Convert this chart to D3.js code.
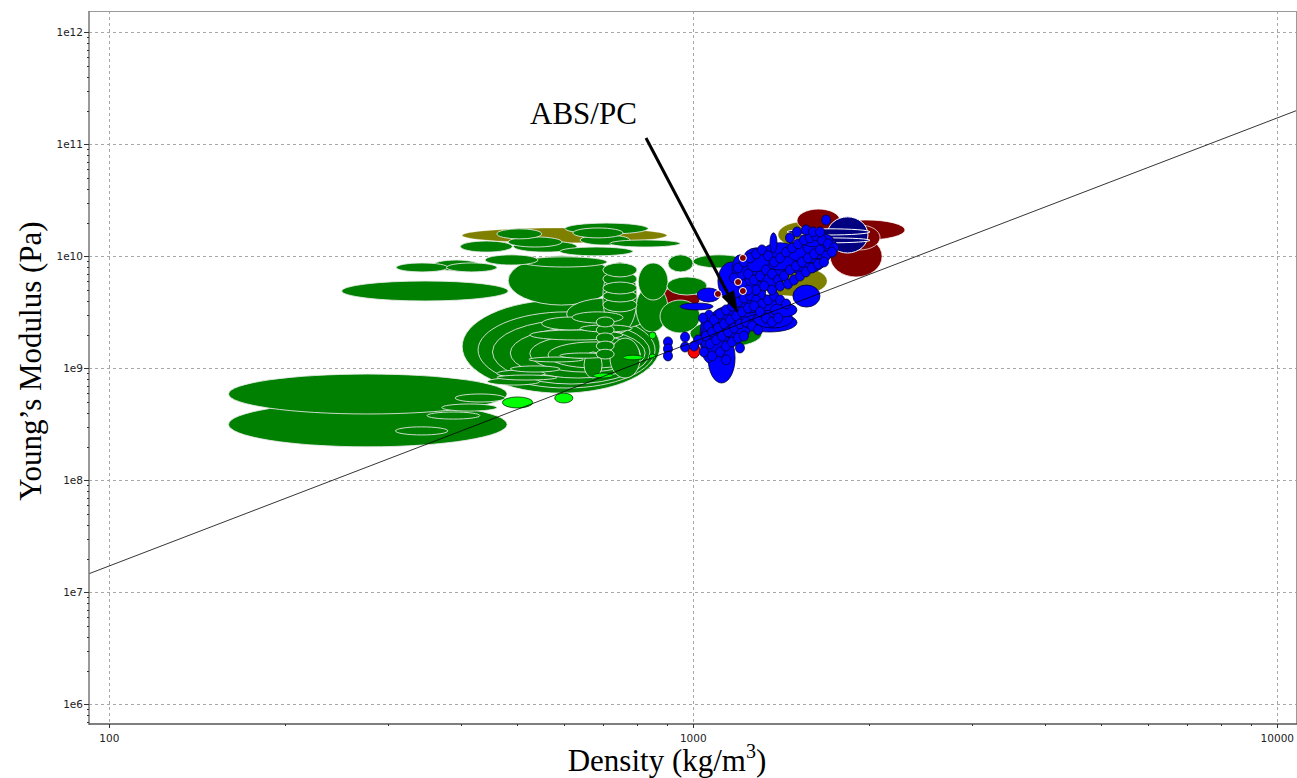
<!DOCTYPE html>
<html><head><meta charset="utf-8">
<script src="https://cdn.jsdelivr.net/npm/d3@7"></script>
<style>html,body{margin:0;padding:0;background:#fff;overflow:hidden}</style>
</head><body><svg id="c" width="1297" height="778"></svg>
<script>
// ---------------- DATA ----------------
// axis ticks
const densityTicks = [100, 1000, 10000];
const densityTickLabels = ["100", "1000", "10000"];
const modulusTicks = [1e6, 1e7, 1e8, 1e9, 1e10, 1e11, 1e12];
const modulusTickLabels = ["1e6", "1e7", "1e8", "1e9", "1e10", "1e11", "1e12"];

// material property ranges: [density min, density max (kg/m3), modulus min, modulus max (GPa)]
const woodsNatural = [ // dark green
  [160,480,0.391,0.889],[160,480,0.199,0.50],[309,380,0.254,0.30],[350,431,0.352,0.407],
  [371,461,0.415,0.48],[391,476,0.50,0.59],[444,546,0.709,0.819],[461,557,0.836,0.965],
  [250,482,3.99,6.02],[310,380,7.25,8.72],[358,431,7.40,9.27],[378,461,7.25,8.72],
  [440,542,8.36,10.3],[509,712,8.02,9.88],[482,734,3.67,10.1],
  [461,550,14.3,17.6],[482,596,12.1,14.9],[399,490,10.9,13.7],[492,632,10.9,13.7],
  [603,837,15.8,19.8],[622,758,14.6,17.9],[640,779,12.6,15.5],[591,788,10.1,12.1],[720,949,12.1,14.0],
  [402,877,0.60,4.07],[428,860,0.667,3.19],[453,843,0.724,2.70],[486,827,0.819,2.29],
  [525,811,0.926,1.98],[564,811,1.006,1.72],
  [461,584,0.786,0.871],[486,591,0.926,1.05],[523,648,1.14,1.26],[591,712,1.23,1.37],
  [550,692,2.20,2.87],[620,758,2.54,3.19],[640,785,2.11,2.44],[525,758,1.79,2.20],[607,843,2.20,4.24],
  [682,732,2.34,2.87],[682,732,1.98,2.44],[682,732,1.68,2.07],[682,732,1.43,1.75],[682,732,1.21,1.48],
  [650,698,0.819,1.40],[720,811,0.819,1.86],
  [700,801,2.07,8.90],[700,801,6.54,8.72],[700,801,5.43,7.25],[700,801,4.61,5.89],[700,801,3.91,5.0],[700,801,3.19,4.24],
  [805,905,4.07,8.72],[798,905,2.11,5.54],[905,999,7.25,10.3],[901,1055,4.51,6.54],
  [999,1226,7.87,10.3],[987,1311,1.55,2.70],[877,1027,2.07,4.07]
];
const oliveGroup = [[402,901,13.2,17.9],[1397,1695,12.1,20.2],[1286,1695,4.42,8.19]];
const darkRedGroup = [[801,1027,3.32,5.10],[1505,1783,16.5,26.4],[1695,2304,14.0,21.1],[1715,2105,6.54,15.2],[1783,2088,11.4,19.0]];
const navyGroup = [[1695,1991,10.7,22.5],[1447,2007,15.5,17.6],[1481,2007,13.2,14.6]];
const foamGroup = [[471,531,0.442,0.555],[579,622,0.49,0.60],[674,729,0.819,0.907],[758,821,1.19,1.31],[840,863,1.21,1.34],[840,863,1.83,2.11]];
const redGroup = [[979,1027,1.23,1.68]];
const polymerRanges = [
  [1060,1179,0.739,2.07],[1027,1102,1.12,3.32],[1481,1648,3.52,5.54],[1212,1505,2.11,3.12],
  [949,1081,3.32,3.83],[1015,1111,3.91,5.21],[1165,1241,5.89,10.3],[1216,1353,7.25,11.9],
  [1353,1391,10.7,16.2],[1301,1523,7.55,13.2],[1447,1736,8.72,13.2],[1523,1736,12.1,16.2],
  [1202,1301,3.12,4.33],[1266,1481,2.29,3.32],[1353,1505,2.87,3.83],[1102,1226,4.07,8.90],
  [1221,1450,5.2,11.0],[1400,1700,7.0,13.5],[1060,1260,1.7,3.6],[1180,1420,2.4,4.6],
  [1150,1330,3.5,6.5],[1540,1760,9.5,16.0],[1030,1150,1.3,2.6]
];
// single-grade polymers: [density, modulus (GPa)]
const polymerPoints = [
  [1039,2.81],[1060,2.39],[1085,2.70],[1111,3.06],[1138,3.32],[1165,3.60],[1193,3.91],[1221,4.24],
  [1251,4.42],[1281,4.07],[1311,3.75],[1343,4.07],[1375,4.42],[1408,4.07],[1442,3.75],
  [1051,1.94],[1077,2.11],[1102,2.29],[1129,2.49],[1156,2.70],[1184,2.93],[1212,3.19],[1241,3.45],
  [1271,3.60],[1301,3.19],[1332,2.81],[1364,2.59],[1397,2.81],
  [1068,1.65],[1094,1.79],[1120,1.94],[1147,2.11],[1174,2.29],[1202,2.49],[1231,2.59],[1261,2.39],[1291,2.20],
  [1043,1.40],[1077,1.29],[1111,1.40],[1138,1.58],[1165,1.72],[1193,1.86],[1221,1.94],[1138,1.19],[1202,1.52],
  [1019,1.79],[1003,1.58],
  [1193,7.87],[1221,8.90],[1251,9.66],[1281,10.5],[1311,11.4],[1343,10.1],[1375,8.90],[1408,9.66],
  [1442,10.9],[1476,11.9],[1511,12.9],[1547,14.0],[1584,14.6],[1622,15.2],[1661,14.0],[1701,12.9],[1742,11.9],
  [1241,6.95],[1271,6.14],[1301,6.67],[1332,7.55],[1364,6.95],[1397,6.14],[1430,6.67],[1464,7.55],
  [1499,8.19],[1535,8.90],[1572,9.66],[1610,10.5],[1648,11.4],[1688,10.1],[1728,10.9],
  [1281,5.00],[1322,5.43],[1364,5.00],[1408,5.43],[1453,5.65],[1487,6.14],[1523,6.67],[1559,7.25],
  [1597,7.87],[1635,8.53],[1674,8.90],
  [1464,14.6],[1505,16.5],[1559,17.2],[1603,16.5],[1648,16.5],[1688,21.1],[1212,5.65],[1241,5.00],[1174,6.40],
  [905,1.72],[905,1.49],[905,1.29],[968,1.90],[968,1.55]
];
const darkRedPoints = [[1216,9.66],[1193,5.89],[1216,4.90],[1102,4.61]];
// guideline E = C * rho^2 (Pa, kg/m3)
const guideCoef = 1.72e3;
const guideExponent = 2;
// annotation
const annotationLabel = "ABS/PC";
const annotationPoint = [1193, 3.12];

// ---------------- CHART ----------------
const GPa = 1e9;
const svg = d3.select("#c");
const P = {left: 89, right: 1297, top: 11, bottom: 724};
const x = d3.scaleLog().domain([100, 10000]).range([109.3, 1277.3]);
const y = d3.scaleLog().domain([1e6, 1e12]).range([704.3, 32.3]);

svg.append("defs").append("clipPath").attr("id", "clip")
  .append("rect").attr("x", P.left).attr("y", P.top)
  .attr("width", P.right - P.left).attr("height", P.bottom - P.top);

// grid
const grid = svg.append("g").attr("stroke", "#a8a8a8").attr("stroke-width", 1).attr("stroke-dasharray", "3,3");
grid.selectAll("line.v").data(densityTicks).join("line")
  .attr("x1", d => Math.round(x(d)) + 0.5).attr("x2", d => Math.round(x(d)) + 0.5)
  .attr("y1", P.top).attr("y2", P.bottom);
grid.selectAll("line.h").data(modulusTicks).join("line")
  .attr("y1", d => Math.round(y(d)) + 0.5).attr("y2", d => Math.round(y(d)) + 0.5)
  .attr("x1", P.left).attr("x2", P.right);

const plot = svg.append("g").attr("clip-path", "url(#clip)");

function ell(d) {
  const x0 = x(d[0]), x1 = x(d[1]), y0 = y(d[2] * GPa), y1 = y(d[3] * GPa);
  return {cx: (x0 + x1) / 2, cy: (y0 + y1) / 2, rx: (x1 - x0) / 2, ry: (y0 - y1) / 2, area: (x1 - x0) * (y0 - y1)};
}
const layers = [
  {data: oliveGroup, fill: "#808000", stroke: "rgba(255,255,255,0.35)", sw: 0.8},
  {data: darkRedGroup, fill: "#800000", stroke: "rgba(255,255,255,0.7)", sw: 1},
  {data: woodsNatural, fill: "#008000", stroke: "rgba(235,235,235,0.85)", sw: 1},
  {data: navyGroup, fill: "#000080", stroke: "#ffffff", sw: 1},
  {data: foamGroup, fill: "#00ff00", stroke: "#003300", sw: 0.8},
  {data: redGroup, fill: "#ff0000", stroke: "#220000", sw: 0.8},
  {data: polymerRanges, fill: "#0000ff", stroke: "#000033", sw: 0.8}
];
layers.forEach(L => {
  const items = L.data.map(ell).sort((a, b) => b.area - a.area);
  plot.append("g").selectAll("ellipse").data(items).join("ellipse")
    .attr("cx", d => d.cx).attr("cy", d => d.cy).attr("rx", d => d.rx).attr("ry", d => d.ry)
    .attr("fill", L.fill).attr("stroke", L.stroke).attr("stroke-width", L.sw);
});
plot.append("g").selectAll("ellipse").data(polymerPoints).join("ellipse")
  .attr("cx", d => x(d[0])).attr("cy", d => y(d[1] * GPa)).attr("rx", 4.5).attr("ry", 5)
  .attr("fill", "#0000ff").attr("stroke", "#000033").attr("stroke-width", 0.8);
plot.append("g").selectAll("circle").data(darkRedPoints).join("circle")
  .attr("cx", d => x(d[0])).attr("cy", d => y(d[1] * GPa)).attr("r", 3.5)
  .attr("fill", "#800000").attr("stroke", "#ffffff").attr("stroke-width", 1);

// guideline
const gx0 = x.invert(P.left), gx1 = x.invert(P.right);
plot.append("line")
  .attr("x1", x(gx0)).attr("y1", y(guideCoef * Math.pow(gx0, guideExponent)))
  .attr("x2", x(gx1)).attr("y2", y(guideCoef * Math.pow(gx1, guideExponent)))
  .attr("stroke", "#000").attr("stroke-width", 0.8);

// axes
const axisG = svg.append("g");
axisG.append("line").attr("x1", P.left).attr("x2", P.right).attr("y1", P.top + 0.5).attr("y2", P.top + 0.5).attr("stroke", "#9a9a9a").attr("stroke-width", 1);
axisG.append("line").attr("x1", P.right - 0.5).attr("x2", P.right - 0.5).attr("y1", P.top).attr("y2", P.bottom).attr("stroke", "#9a9a9a").attr("stroke-width", 1);
axisG.append("line").attr("x1", P.left).attr("x2", P.left).attr("y1", P.top).attr("y2", P.bottom + 1).attr("stroke", "#777").attr("stroke-width", 1.5);
axisG.append("line").attr("x1", P.left).attr("x2", P.right).attr("y1", P.bottom).attr("y2", P.bottom).attr("stroke", "#555").attr("stroke-width", 1.5);

// minor ticks
const yMinor = [];
for (let e = 5; e <= 12; e++) for (let k = 2; k <= 9; k++) { const v = k * Math.pow(10, e); if (y(v) > P.top && y(v) < P.bottom) yMinor.push(v); }
axisG.selectAll("line.ym").data(yMinor).join("line")
  .attr("x1", P.left - 2).attr("x2", P.left).attr("y1", d => Math.round(y(d)) + 0.5).attr("y2", d => Math.round(y(d)) + 0.5)
  .attr("stroke", "#333").attr("stroke-width", 1);
axisG.selectAll("line.yM").data(modulusTicks).join("line")
  .attr("x1", P.left - 5).attr("x2", P.left).attr("y1", d => Math.round(y(d)) + 0.5).attr("y2", d => Math.round(y(d)) + 0.5)
  .attr("stroke", "#333").attr("stroke-width", 1);
const xMinor = [];
for (let e = 1; e <= 4; e++) for (let k = 2; k <= 9; k++) { const v = k * Math.pow(10, e); if (x(v) > P.left && x(v) < P.right) xMinor.push(v); }
axisG.selectAll("line.xm").data(xMinor).join("line")
  .attr("y1", P.bottom).attr("y2", P.bottom + 2).attr("x1", d => Math.round(x(d)) + 0.5).attr("x2", d => Math.round(x(d)) + 0.5)
  .attr("stroke", "#333").attr("stroke-width", 1);
axisG.selectAll("line.xM").data(densityTicks).join("line")
  .attr("y1", P.bottom).attr("y2", P.bottom + 4).attr("x1", d => Math.round(x(d)) + 0.5).attr("x2", d => Math.round(x(d)) + 0.5)
  .attr("stroke", "#333").attr("stroke-width", 1);

// tick labels
axisG.selectAll("text.yl").data(modulusTicks).join("text")
  .attr("x", P.left - 6).attr("y", d => y(d)).attr("dy", "0.35em").attr("text-anchor", "end")
  .attr("font-family", "DejaVu Sans, sans-serif").attr("font-size", 10.5).attr("fill", "#222")
  .text((d, i) => modulusTickLabels[i]);
axisG.selectAll("text.xl").data(densityTicks).join("text")
  .attr("x", d => x(d)).attr("y", P.bottom + 18).attr("text-anchor", "middle")
  .attr("font-family", "DejaVu Sans, sans-serif").attr("font-size", 10.5).attr("fill", "#222")
  .text((d, i) => densityTickLabels[i]);

// axis titles
const xt = svg.append("text").attr("x", 667).attr("y", 771).attr("text-anchor", "middle")
  .attr("font-family", "Liberation Serif, Times New Roman, serif").attr("font-size", 31).attr("fill", "#000");
xt.append("tspan").text("Density (kg/m");
xt.append("tspan").attr("dy", -13).attr("font-size", 20).text("3");
xt.append("tspan").attr("dy", 13).text(")");
svg.append("text").attr("transform", "translate(41,361) rotate(-90)").attr("text-anchor", "middle")
  .attr("font-family", "Liberation Serif, Times New Roman, serif").attr("font-size", 31).attr("fill", "#000")
  .text("Young’s Modulus (Pa)");

// annotation
svg.append("text").attr("x", 530).attr("y", 124).attr("font-family", "Liberation Serif, Times New Roman, serif")
  .attr("font-size", 31).attr("fill", "#000").text(annotationLabel);
const ax0 = 646, ay0 = 138, tx = x(annotationPoint[0]), ty = y(annotationPoint[1] * GPa);
const ang = Math.atan2(ty - ay0, tx - ax0), hl = 22, hw = 7;
const bx = tx - hl * Math.cos(ang), by = ty - hl * Math.sin(ang);
svg.append("line").attr("x1", ax0).attr("y1", ay0).attr("x2", bx).attr("y2", by).attr("stroke", "#000").attr("stroke-width", 3);
svg.append("path").attr("d", `M${tx},${ty}L${bx + hw * Math.sin(ang)},${by - hw * Math.cos(ang)}L${bx - hw * Math.sin(ang)},${by + hw * Math.cos(ang)}Z`).attr("fill", "#000");
</script></body></html>
